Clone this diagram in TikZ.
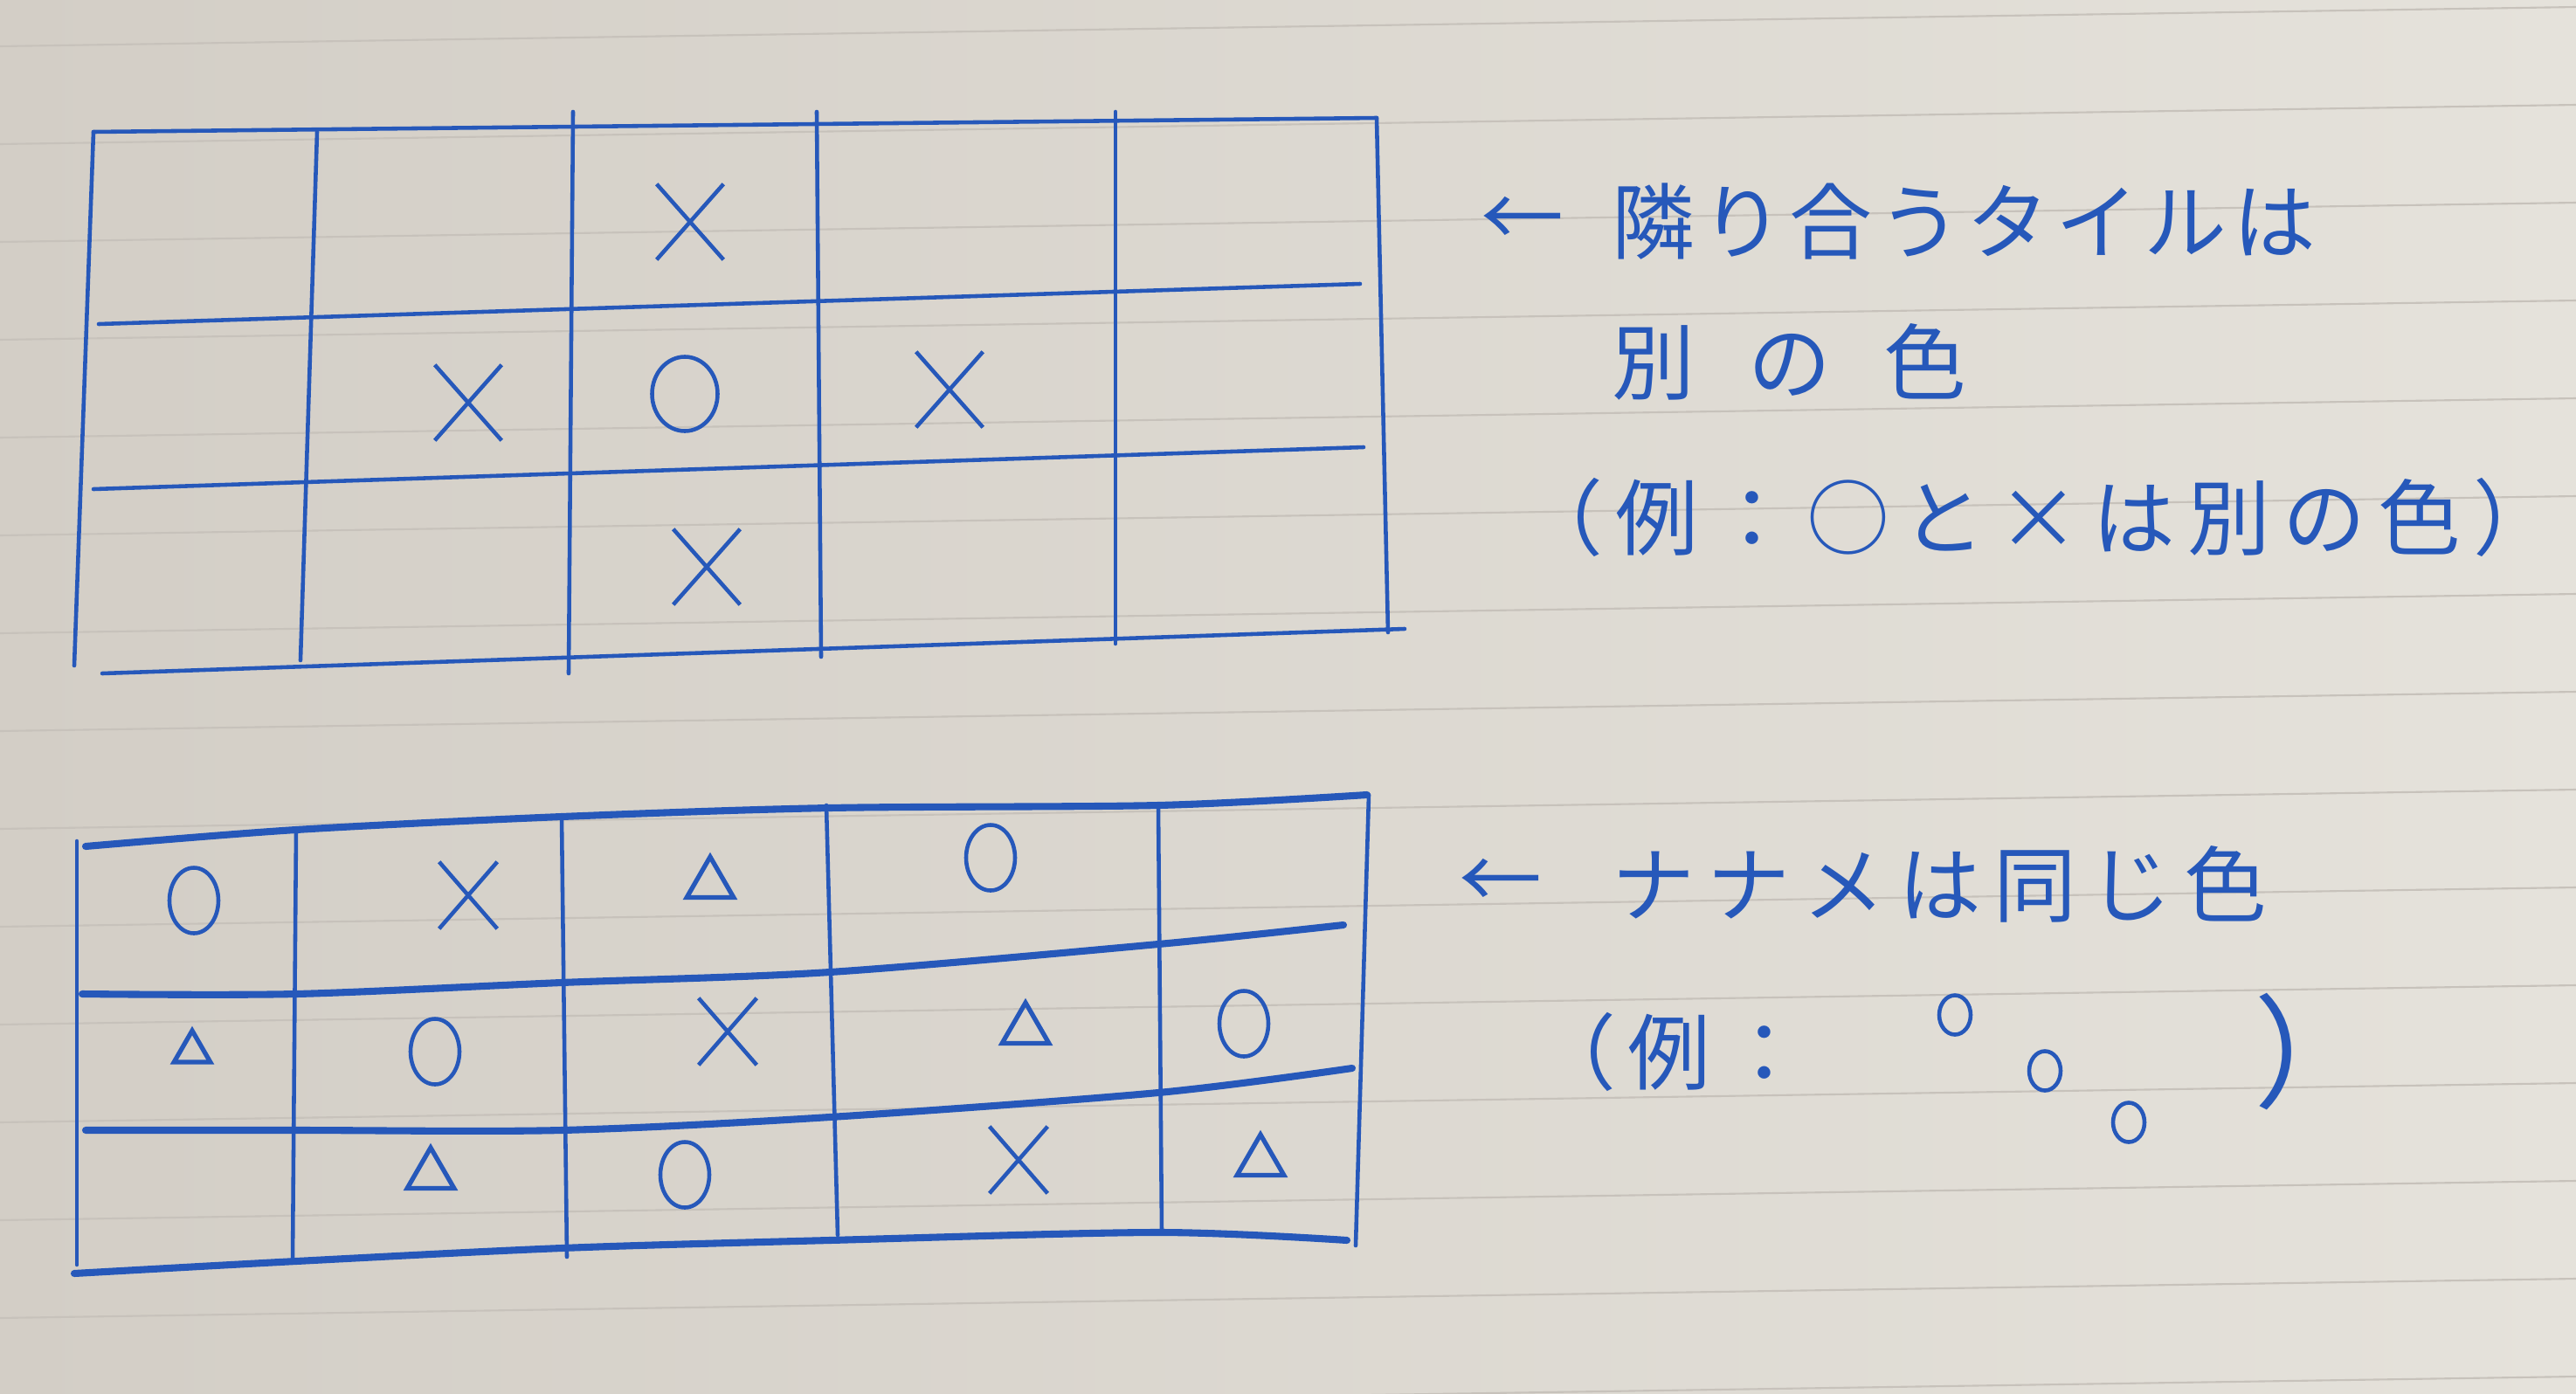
\documentclass[tikz,border=0pt]{standalone}
\usepackage{fontspec}
\newfontfamily\jpfont{Noto Sans CJK JP}
\usetikzlibrary{shapes.geometric, shapes.misc, calc}

\definecolor{ink}{RGB}{38,88,186}
\definecolor{paperdark}{RGB}{211,206,198}
\definecolor{paperlight}{RGB}{229,226,219}
\definecolor{ruled}{RGB}{199,194,187}

\tikzset{
  gridline/.style={ink, line width=1.3pt, line cap=round},
  gridthick/.style={ink, line width=2.3pt, line cap=round},
  symo/.style={ellipse, draw=ink, line width=1.3pt, inner sep=0pt, minimum width=0.75cm, minimum height=0.85cm},
  symx/.style={cross out, draw=ink, line width=1.3pt, inner sep=0pt, minimum width=0.72cm, minimum height=0.82cm},
  symos/.style={symo, minimum width=0.56cm, minimum height=0.75cm},
  symxs/.style={symx, minimum width=0.62cm, minimum height=0.72cm},
  symt/.style={regular polygon, regular polygon sides=3, draw=ink, line width=1.5pt, inner sep=0pt, minimum size=0.62cm},
  dotmark/.style={ellipse, draw=ink, line width=1.3pt, inner sep=0pt, minimum width=0.36cm, minimum height=0.45cm},
  hand/.style={text=ink, font=\jpfont\fontsize{27}{32}\selectfont, inner sep=0pt, anchor=west}
}

\begin{document}
\begin{tikzpicture}
    \useasboundingbox (0,0) rectangle (29.49,-15.96);
    % Paper and its ruled lines
    \shade[left color=paperdark, right color=paperlight] (0,0) rectangle (29.49,-15.96);
    \foreach \y in {0.28,1.40,...,15.96} {
        \draw[ruled, line width=0.6pt] (0,-\y-0.25) -- (29.49,-\y+0.20);
    }

    % Upper grid
    \foreach \xa/\ya/\xb/\yb in {1.07/-1.51/15.76/-1.35, 1.13/-3.71/15.57/-3.25,
                                 1.07/-5.60/15.61/-5.12, 1.17/-7.71/16.08/-7.20} {
        \draw[gridline] (\xa,\ya) -- (\xb,\yb);
    }
    \foreach \xa/\ya/\xb/\yb in {1.07/-1.51/0.85/-7.62, 3.63/-1.51/3.44/-7.56,
                                 6.56/-1.28/6.51/-7.71, 9.35/-1.28/9.40/-7.52,
                                 12.77/-1.28/12.77/-7.37, 15.76/-1.35/15.89/-7.24} {
        \draw[gridline] (\xa,\ya) -- (\xb,\yb);
    }

    % Marks in the upper grid
    \node[symx] (ua) at (7.90,-2.54) {};
    \node[symx] (ub) at (5.36,-4.61) {};
    \node[symo] (uc) at (7.84,-4.51) {};
    \node[symx] (ud) at (10.87,-4.46) {};
    \node[symx] (ue) at (8.09,-6.49) {};

    % Lower grid
    \draw[gridthick] plot[smooth] coordinates {(0.98,-9.69) (3.39,-9.50) (6.43,-9.35) (9.50,-9.25) (13.26,-9.22) (15.65,-9.10)};
    \draw[gridthick] plot[smooth] coordinates {(0.94,-11.38) (3.39,-11.38) (6.43,-11.25) (9.50,-11.13) (13.26,-10.81) (15.38,-10.59)};
    \draw[gridthick] plot[smooth] coordinates {(0.98,-12.94) (3.39,-12.94) (6.43,-12.94) (9.50,-12.79) (13.26,-12.51) (15.48,-12.23)};
    \draw[gridthick] plot[smooth] coordinates {(0.85,-14.58) (3.39,-14.44) (6.43,-14.29) (9.50,-14.20) (13.26,-14.11) (15.42,-14.20)};
    \foreach \xa/\ya/\xb/\yb in {0.88/-9.63/0.88/-14.48, 3.39/-9.50/3.35/-14.44,
                                 6.43/-9.35/6.49/-14.39, 9.46/-9.22/9.59/-14.14,
                                 13.26/-9.22/13.30/-14.11, 15.67/-9.10/15.52/-14.26} {
        \draw[gridline] (\xa,\ya) -- (\xb,\yb);
    }

    % Marks in the lower grid
    \node[symos] (la) at (2.22,-10.31) {};
    \node[symxs] (lb) at (5.36,-10.25) {};
    \node[symt] (lc) at (8.13,-10.12) {};
    \node[symos] (ld) at (11.34,-9.82) {};
    \node[symt, minimum size=0.48cm] (le) at (2.20,-12.04) {};
    \node[symos] (lf) at (4.98,-12.04) {};
    \node[symxs] (lg) at (8.33,-11.81) {};
    \node[symt] (lh) at (11.74,-11.79) {};
    \node[symos] (li) at (14.24,-11.72) {};
    \node[symt] (lj) at (4.93,-13.45) {};
    \node[symos] (lk) at (7.84,-13.45) {};
    \node[symxs] (ll) at (11.66,-13.28) {};
    \node[symt] (lm) at (14.43,-13.30) {};

    % Notes
    \node[hand] (arrA) at (16.95,-2.54) {←};
    \node[hand] (noteA) at (18.45,-2.54) {\addfontfeature{LetterSpace=7}隣り合うタイルは};
    \node[hand] (noteB) at (18.45,-4.14) {\addfontfeature{LetterSpace=64}別の色};
    \node[hand] (exA) at (17.40,-5.92) {\addfontfeature{LetterSpace=15}（例：○と×は別の色）};
    \node[hand] (arrB) at (16.70,-10.12) {←};
    \node[hand] (noteC) at (18.45,-10.12) {\addfontfeature{LetterSpace=15}ナナメは同じ色};
    \node[hand] (exB) at (17.55,-12.04) {\addfontfeature{LetterSpace=14}（例：};
    \node[dotmark] (da) at (22.38,-11.62) {};
    \node[dotmark] (db) at (23.41,-12.26) {};
    \node[dotmark] (dc) at (24.37,-12.85) {};
    \node[hand, font=\jpfont\fontsize{40}{44}\selectfont] (exBend) at (25.80,-12.04) {）};
\end{tikzpicture}
\end{document}
